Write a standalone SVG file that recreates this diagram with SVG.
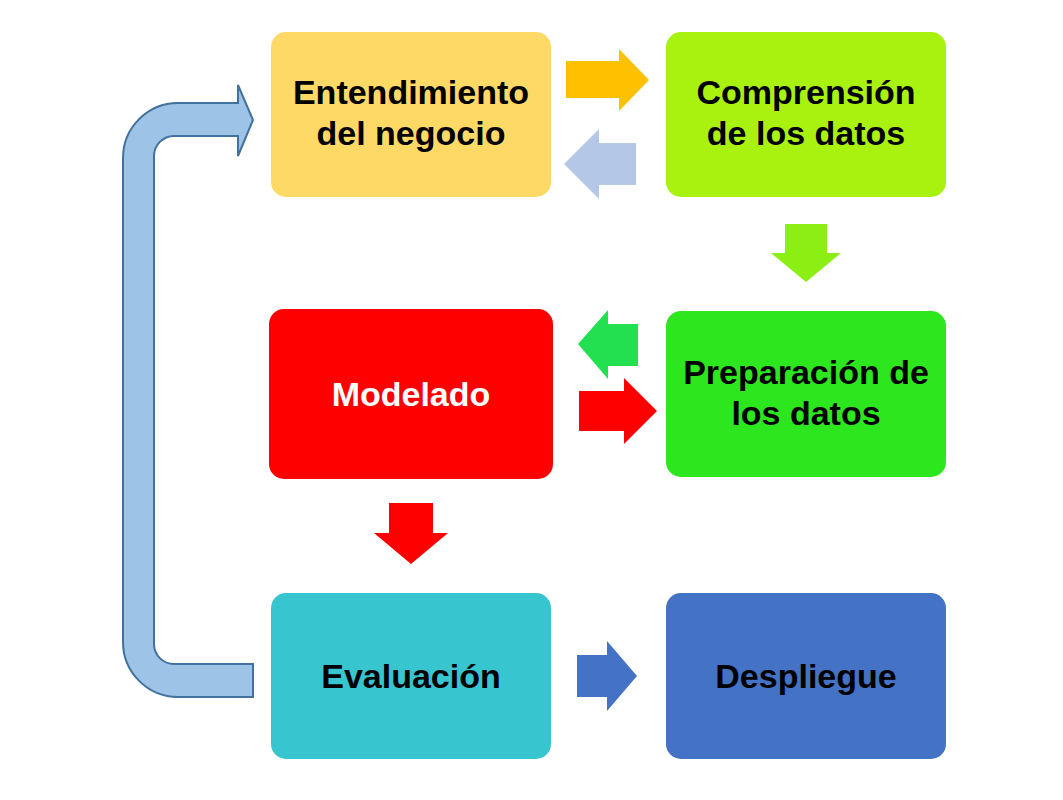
<svg xmlns="http://www.w3.org/2000/svg" width="1063" height="800" viewBox="0 0 1063 800">
<style>
.lbl{font-family:"Liberation Sans",Arial,sans-serif;font-weight:bold;font-size:34px;text-anchor:middle;fill:#000}
.w{fill:#fff}
</style>
<rect width="1063" height="800" fill="#fff"/>
<g id="connectors">
<path id="loop" d="M253,664 L174,664 A20,20 0 0 1 154,644 L154,156 A20,20 0 0 1 174,136 L238,136 L238,156 L253,120 L238,85 L238,103 L178,103 A55,55 0 0 0 123,158 L123,642 A55,55 0 0 0 178,697 L253,697 Z" fill="#9DC3E6" stroke="#41719C" stroke-width="2"/>
<polygon points="566,61 619,61 619,49 649,80 619,111 619,98 566,98" fill="#FFC000"/>
<polygon points="636,143 599,143 599,129 564,164 599,199 599,185 636,185" fill="#B4C7E7"/>
<polygon points="785,224 827,224 827,253 841,253 806,282 771,253 785,253" fill="#8CEF14"/>
<polygon points="638,324 608,324 608,310 578,344 608,379 608,366 638,366" fill="#22E050"/>
<polygon points="579,391 624,391 624,378 657,411 624,444 624,431 579,431" fill="#FF0000"/>
<polygon points="389,503 433,503 433,533 448,533 411,564 374,533 389,533" fill="#FF0000"/>
<polygon points="577,655 607,655 607,641 637,676 607,711 607,697 577,697" fill="#4472C4"/>
</g>
<g id="n1">
<rect x="271" y="32" width="280" height="165" rx="15" fill="#FFD966"/>
<text class="lbl" x="411" y="104">Entendimiento</text>
<text class="lbl" x="411" y="145">del negocio</text>
</g>
<g id="n2">
<rect x="666" y="32" width="280" height="165" rx="15" fill="#A9F20F"/>
<text class="lbl" x="806" y="104">Comprensión</text>
<text class="lbl" x="806" y="145">de los datos</text>
</g>
<g id="n3">
<rect x="666" y="311" width="280" height="166" rx="15" fill="#2CE61E"/>
<text class="lbl" x="806" y="384">Preparación de</text>
<text class="lbl" x="806" y="425">los datos</text>
</g>
<g id="n4">
<rect x="269" y="309" width="284" height="170" rx="15" fill="#FF0000"/>
<text class="lbl w" x="411" y="406">Modelado</text>
</g>
<g id="n5">
<rect x="271" y="593" width="280" height="166" rx="15" fill="#37C5D0"/>
<text class="lbl" x="411" y="688">Evaluación</text>
</g>
<g id="n6">
<rect x="666" y="593" width="280" height="166" rx="15" fill="#4472C4"/>
<text class="lbl" x="806" y="688">Despliegue</text>
</g>
</svg>
